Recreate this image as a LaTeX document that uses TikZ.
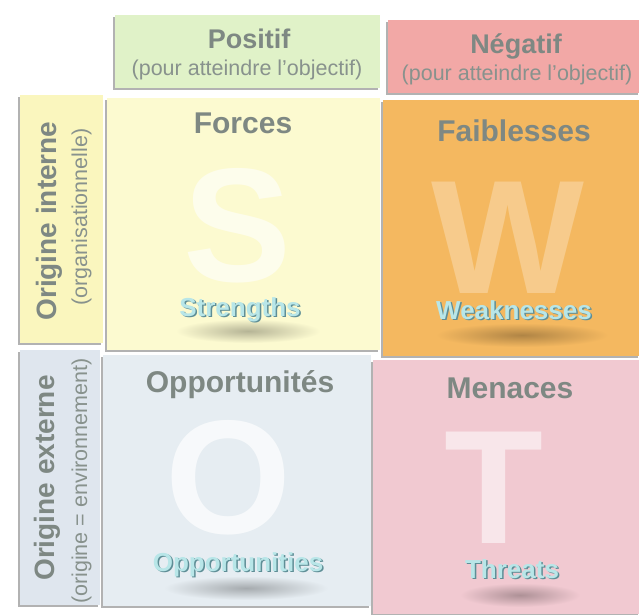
\documentclass[tikz,border=0pt]{standalone}
\usepackage{fontspec}
\setmainfont{Liberation Sans}
\usetikzlibrary{shadows}
\definecolor{posc}{HTML}{E0F2C8}
\definecolor{negc}{HTML}{F2A8A6}
\definecolor{intc}{HTML}{FAF6BE}
\definecolor{extc}{HTML}{DFE6EE}
\definecolor{sc}{HTML}{FCFAD0}
\definecolor{wc}{HTML}{F4B860}
\definecolor{oc}{HTML}{E6EDF2}
\definecolor{tc}{HTML}{F1C9D1}
\definecolor{titc}{HTML}{7E8883}
\definecolor{subc}{HTML}{88928D}
\definecolor{engc}{HTML}{B8E6E8}
\definecolor{engd}{HTML}{5E8E96}
\newcommand\embossed[1]{\rlap{\hspace{1.5pt}\raisebox{-1.5pt}{\color{engd}#1}}\color{engc}#1}
\begin{document}
\begin{tikzpicture}[x=1pt,y=-1pt,
  panel/.style={inner sep=0pt,outer sep=0pt,draw=none,
    drop shadow={shadow xshift=-2pt,shadow yshift=-2pt,opacity=.55,fill=black!55}},
  title/.style={anchor=base,text=titc,font=\fontsize{30}{30}\selectfont\bfseries,inner sep=0pt},
  head/.style={anchor=base,text=titc,font=\fontsize{27}{27}\selectfont\bfseries,inner sep=0pt},
  side/.style={anchor=base,text=titc,font=\fontsize{28}{28}\selectfont\bfseries,inner sep=0pt,rotate=90},
  subt/.style={anchor=base,text=subc,font=\fontsize{21.5}{21.5}\selectfont,inner sep=0pt},
  big/.style={anchor=center,text=white,font=\fontsize{162}{162}\selectfont\bfseries,inner sep=0pt},
  eng/.style={anchor=base,font=\fontsize{26}{26}\selectfont\bfseries,inner sep=0pt}]
\useasboundingbox (0,0) rectangle (639,614);
\fill[white] (0,0) rectangle (639,614);
% panels
\node[panel,fill=posc,minimum width=265pt,minimum height=73pt] (pos) at (247.5,51.5) {};
\node[panel,fill=negc,minimum width=252pt,minimum height=73pt] (neg) at (514,56.5) {};
\node[panel,fill=intc,minimum width=83pt,minimum height=248pt] (int) at (61.5,219) {};
\node[panel,fill=extc,minimum width=80pt,minimum height=255pt] (ext) at (60,477.5) {};
\node[panel,fill=sc,minimum width=273pt,minimum height=252pt] (S) at (243.5,224) {};
\node[panel,fill=wc,minimum width=257pt,minimum height=256pt] (W) at (511.5,228) {};
\node[panel,fill=oc,minimum width=268pt,minimum height=251pt] (O) at (237,480.5) {};
\node[panel,fill=tc,minimum width=267pt,minimum height=254pt] (T) at (506.5,487) {};
% header texts
\node[head] (post) at (249,48) {Positif};
\node[subt] (poss) at (247,75) {(pour atteindre l'objectif)};
\node[head] (negt) at (516,53) {Négatif};
\node[subt] (negs) at (517,80) {(pour atteindre l'objectif)};
\node[side] (intt) at (56,221) {Origine interne};
\node[subt,rotate=90] (ints) at (87,217) {(organisationnelle)};
\node[side] (extt) at (54,478) {Origine externe};
\node[subt,rotate=90] (exts) at (87,481) {(origine = environnement)};
% big letters
\node[big,text opacity=.6] (Sl) at (238,226) {S};
\node[big,text opacity=.28] (Wl) at (508,238) {W};
\node[big,text opacity=.7] (Ol) at (229,478) {O};
\node[big,text opacity=.55] (Tl) at (494,488) {T};
% quadrant titles
\node[title] (St) at (243,133) {Forces};
\node[title] (Wt) at (514,141) {Faiblesses};
\node[title] (Ot) at (240,392) {Opportunités};
\node[title] (Tt) at (510,398) {Menaces};
% soft shadows under english words
\shade[inner color=black!28!sc,outer color=sc] (248,331) ellipse (72pt and 12pt);
\shade[inner color=black!28!wc,outer color=wc] (522,335) ellipse (86pt and 12pt);
\shade[inner color=black!28!oc,outer color=oc] (246,588) ellipse (82pt and 12pt);
\shade[inner color=black!28!tc,outer color=tc] (520,595) ellipse (60pt and 12pt);
% english words
\node[eng] (Se) at (240,316) {\embossed{Strengths}};
\node[eng] (We) at (514,319) {\embossed{Weaknesses}};
\node[eng] (Oe) at (238,571) {\embossed{Opportunities}};
\node[eng] (Te) at (512,578) {\embossed{Threats}};
\end{tikzpicture}
\end{document}
